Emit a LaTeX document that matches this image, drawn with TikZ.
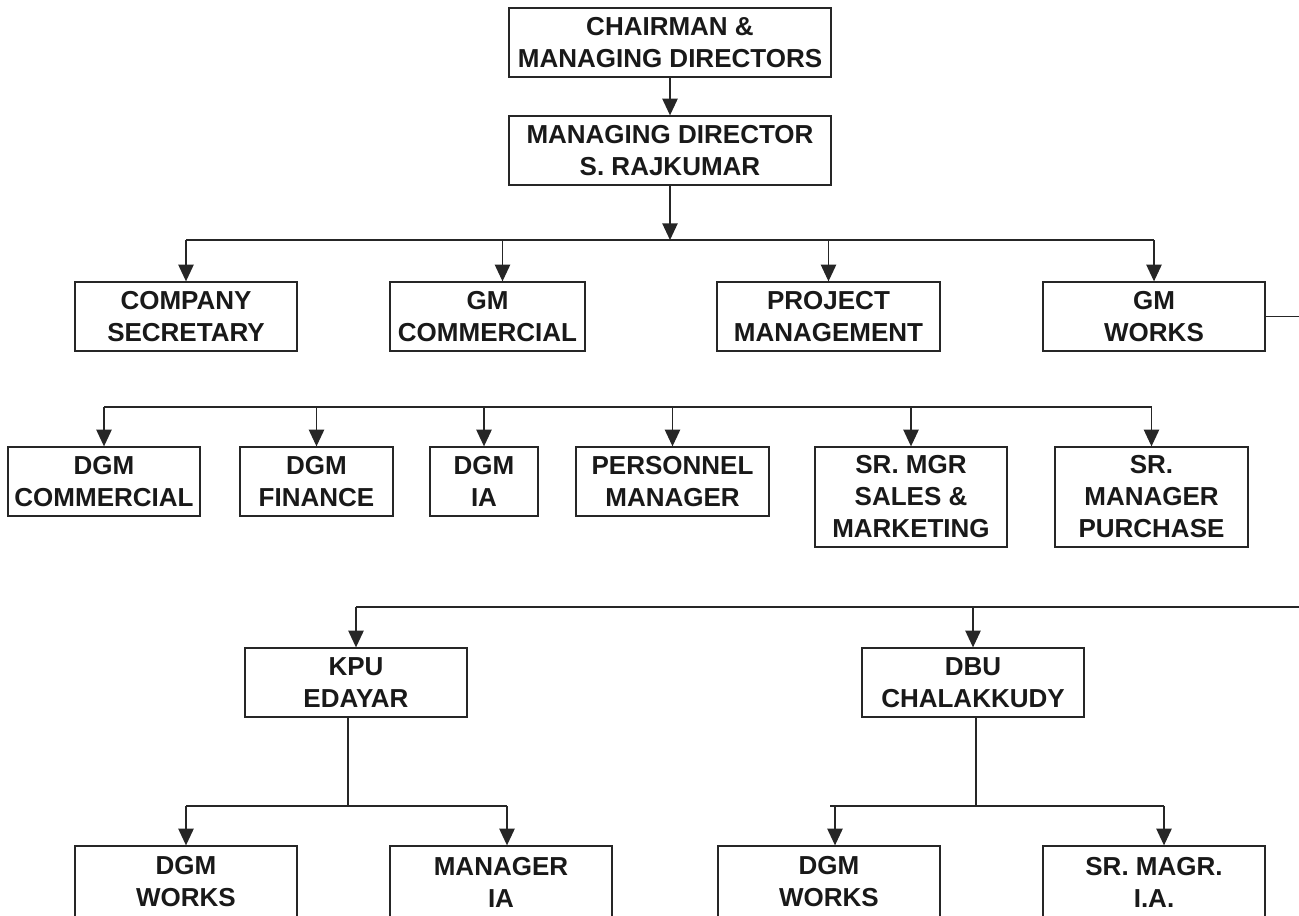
\documentclass[tikz,border=0pt]{standalone}
\usepackage{fontspec}
\setmainfont{Liberation Sans}
\usetikzlibrary{arrows.meta,calc}
\tikzset{
  obox/.style={draw=black!85, line width=1pt, inner sep=0pt, align=center,
    font=\fontsize{19.5}{24}\selectfont\bfseries, text=black!90},
  conn/.style={draw=black!85, line width=1pt},
  arr/.style={conn, -{Triangle[length=12.5pt,width=11.5pt]}}
}
\newcommand\obx[6]{\node[obox, minimum width={(#4-#2)*0.75pt}, minimum height={(#5-#3)*0.75pt}] (#1) at ({(#2+#4)/2},{(#3+#5)/2}) {#6};}
\begin{document}
\begin{tikzpicture}[x=0.75pt,y=-0.75pt]
\useasboundingbox (0,0) rectangle (1299,915);
% level 0/1
\obx{ch}{509}{8}{831}{77}{CHAIRMAN \&\\MANAGING DIRECTORS}
\obx{md}{509}{116}{831}{185}{MANAGING DIRECTOR\\S. RAJKUMAR}
% level 2
\obx{cs}{75}{282}{297}{351}{COMPANY\\SECRETARY}
\obx{gc}{390}{282}{585}{351}{GM\\COMMERCIAL}
\obx{pm}{717}{282}{940}{351}{PROJECT\\MANAGEMENT}
\obx{gw}{1043}{282}{1265}{351}{GM\\WORKS}
% level 3
\obx{dc}{8}{447}{200}{516}{DGM\\COMMERCIAL}
\obx{df}{240}{447}{393}{516}{DGM\\FINANCE}
\obx{di}{430}{447}{538}{516}{DGM\\IA}
\obx{pe}{576}{447}{769}{516}{PERSONNEL\\MANAGER}
\obx{sm}{815}{447}{1007}{547}{SR. MGR\\SALES \&\\MARKETING}
\obx{sp}{1055}{447}{1248}{547}{SR.\\MANAGER\\PURCHASE}
% units
\obx{kpu}{245}{648}{467}{717}{KPU\\EDAYAR}
\obx{dbu}{862}{648}{1084}{717}{DBU\\CHALAKKUDY}
% bottom
\obx{kw}{75}{846}{297}{918}{DGM\\WORKS}
\obx{ki}{390}{846}{612}{918}{MANAGER\\IA}
\obx{dw}{718}{846}{940}{918}{DGM\\WORKS}
\obx{da}{1043}{846}{1265}{918}{SR. MAGR.\\I.A.}
% connectors
\draw[arr] (ch) -- (md);
\coordinate (h1) at (670,240);
\draw[arr] (md) -- (h1);
\draw[conn] (cs.north |- h1) -- (gw.north |- h1);
\draw[arr] (cs.north |- h1) -- (cs.north);
\draw[arr] ($(gc.north |- h1)+(15,0)$) -- ($(gc.north)+(15,0)$);
\draw[arr] (pm.north |- h1) -- (pm.north);
\draw[arr] (gw.north |- h1) -- (gw.north);
% GM commercial subtree
\coordinate (h2) at (485,407);
\draw[conn] (dc.north |- h2) -- (sp.north |- h2);
\draw[conn] ($(gc.south)+(-2,0)$) -- ($(gc.south)+(-2,0)$ |- h2);
\foreach \n in {dc,df,di,pe,sm,sp} \draw[arr] (\n.north |- h2) -- (\n.north);
% GM works to units
\coordinate (r1) at (1320,315);
\coordinate (r2) at (1320,607);
\draw[conn] (gw.east) -- (gw.east -| r1) -- (r2) -- (kpu.north |- r2);
\draw[arr] (kpu.north |- r2) -- (kpu.north);
\draw[arr] (dbu.north |- r2) -- (dbu.north);
% KPU subtree
\coordinate (h3) at (348,806);
\draw[conn] ($(kpu.south)+(-8,0)$) -- (h3);
\draw[conn] (kw.north |- h3) -- ($(ki.north |- h3)+(6,0)$);
\draw[arr] (kw.north |- h3) -- (kw.north);
\draw[arr] ($(ki.north |- h3)+(6,0)$) -- ($(ki.north)+(6,0)$);
% DBU subtree
\coordinate (h4) at (976,806);
\draw[conn] ($(dbu.south)+(3,0)$) -- (h4);
\draw[conn] ($(dw.north |- h4)+(1,0)$) -- ($(da.north |- h4)+(10,0)$);
\draw[arr] ($(dw.north |- h4)+(6,0)$) -- ($(dw.north)+(6,0)$);
\draw[arr] ($(da.north |- h4)+(10,0)$) -- ($(da.north)+(10,0)$);
\end{tikzpicture}
\end{document}
